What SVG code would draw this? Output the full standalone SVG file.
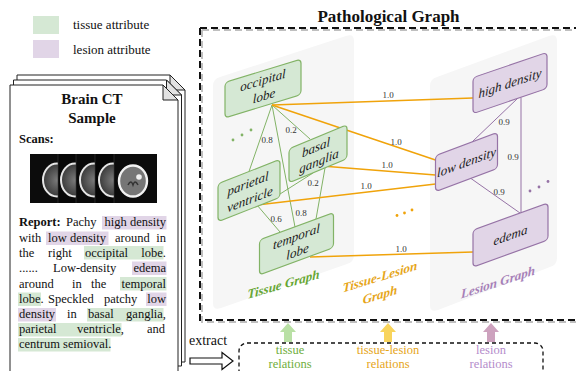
<svg xmlns="http://www.w3.org/2000/svg" width="576" height="371" viewBox="0 0 576 371">
<defs>
<style>
text{font-family:"Liberation Serif","Times New Roman",serif;}
.tissue{fill:#d5e8d4;stroke:#82b366;stroke-width:1.2;}
.lesion{fill:#e1d5e7;stroke:#9673a6;stroke-width:1.2;}
.nt{font-size:13px;font-style:italic;fill:#1a1a1a;text-anchor:middle;}
.el{font-size:9px;fill:#333;text-anchor:middle;}
.ge{stroke:#82b366;stroke-width:1;fill:none;}
.oe{stroke:#f0a30a;stroke-width:1.5;fill:none;}
.pe{stroke:#9673a6;stroke-width:1;fill:none;}
.rep{font-size:12.5px;fill:#111;}
.page{fill:#fff;stroke:#222;stroke-width:1;}
.fold{fill:#e2e2e2;stroke:#222;stroke-width:1;}
.panel{fill:#f6f6f6;}
.gl{font-size:13px;font-weight:bold;font-style:italic;text-anchor:middle;}
.bt{font-size:12.5px;text-anchor:middle;}
.head{fill:url(#brain);stroke:#e6e6e6;stroke-width:2;}
.sep{stroke:#3a3a3a;stroke-width:0.6;}
</style>
<radialGradient id="brain" cx="0.5" cy="0.5" r="0.5">
<stop offset="0" stop-color="#7a7a7a"/>
<stop offset="1" stop-color="#3a3a3a"/>
</radialGradient>
</defs>

<!-- legend -->
<g id="legend">
<rect x="33" y="16" width="26" height="18" fill="#d5e8d4"/>
<text x="73" y="29" font-size="13" fill="#111">tissue attribute</text>
<rect x="33" y="40" width="26" height="18" fill="#e1d5e7"/>
<text x="73" y="53.5" font-size="13" fill="#111">lesion attribute</text>
</g>

<!-- document stack -->
<g id="document">
<path class="page" d="M17 75 H170 L185 90 V362 H17 Z"/>
<path class="fold" d="M170 75 V90 H185 Z"/>
<path class="page" d="M13.5 80 H166.5 L181.5 95 V366 H13.5 Z"/>
<path class="fold" d="M166.5 80 V95 H181.5 Z"/>
<path class="page" d="M10 85 H163 L178 100 V380 H10 Z"/>
<path class="fold" d="M163 85 V100 H178 Z"/>
<text x="92" y="104" font-size="15" font-weight="bold" text-anchor="middle" fill="#111">Brain CT</text>
<text x="92" y="123" font-size="15" font-weight="bold" text-anchor="middle" fill="#111">Sample</text>
<text x="19" y="143" font-size="12.5" font-weight="bold" fill="#111">Scans:</text>
<!-- CT strip -->
<g id="ct">
<rect x="30" y="154" width="127" height="49" fill="#0c0c0c"/>
<ellipse class="head" cx="57" cy="180" rx="14" ry="16.5"/>
<rect x="58" y="154" width="99" height="49" fill="#070707"/>
<line class="sep" x1="58" y1="154" x2="58" y2="203"/>
<ellipse class="head" cx="75" cy="180" rx="14" ry="16.5"/>
<rect x="76" y="154" width="81" height="49" fill="#0a0a0a"/>
<line class="sep" x1="76" y1="154" x2="76" y2="203"/>
<ellipse class="head" cx="94" cy="180" rx="14" ry="16.5"/>
<rect x="95" y="154" width="62" height="49" fill="#060606"/>
<line class="sep" x1="95" y1="154" x2="95" y2="203"/>
<ellipse class="head" cx="113" cy="180" rx="14" ry="16.5"/>
<rect x="114" y="154" width="43" height="49" fill="#0b0b0b"/>
<line class="sep" x1="114" y1="154" x2="114" y2="203"/>
<ellipse cx="133" cy="181" rx="14" ry="15.5" fill="#767676" stroke="#f2f2f2" stroke-width="2.4"/>
<path d="M128 185 Q131 179 133 185 Q135 179 138 185" stroke="#333" stroke-width="1.5" fill="none"/>
<circle cx="139" cy="177" r="2.8" fill="#f0f0f0"/>
</g>
<!-- report -->
<g id="highlights">
<rect x="102" y="216" width="64.5" height="13.5" fill="#e1d5e7"/>
<rect x="46" y="231.5" width="62.5" height="13.5" fill="#e1d5e7"/>
<rect x="84" y="246" width="79.5" height="13.5" fill="#d5e8d4"/>
<rect x="132" y="261.5" width="34.5" height="13.5" fill="#e1d5e7"/>
<rect x="120" y="277" width="46.5" height="13.5" fill="#d5e8d4"/>
<rect x="18" y="292.5" width="23" height="13.5" fill="#d5e8d4"/>
<rect x="146" y="292.5" width="20.5" height="13.5" fill="#e1d5e7"/>
<rect x="18" y="308" width="38" height="13.5" fill="#e1d5e7"/>
<rect x="87" y="308" width="76.5" height="13.5" fill="#d5e8d4"/>
<rect x="18" y="323" width="103.5" height="13.5" fill="#d5e8d4"/>
<rect x="18" y="338" width="92.5" height="13.5" fill="#d5e8d4"/>
</g>
<text class="rep" y="226"><tspan x="19" font-weight="bold">Report:</tspan><tspan x="66">Pachy</tspan><tspan x="166" text-anchor="end">high density</tspan></text>
<text class="rep" y="241.5"><tspan x="19">with</tspan><tspan x="48">low density</tspan><tspan x="115">around</tspan><tspan x="166" text-anchor="end">in</tspan></text>
<text class="rep" y="256.5"><tspan x="19">the</tspan><tspan x="48">right</tspan><tspan x="85">occipital</tspan><tspan x="166" text-anchor="end">lobe.</tspan></text>
<text class="rep" y="272"><tspan x="19">......</tspan><tspan x="53">Low-density</tspan><tspan x="166" text-anchor="end">edema</tspan></text>
<text class="rep" y="287.5"><tspan x="19">around</tspan><tspan x="72">in</tspan><tspan x="91">the</tspan><tspan x="166" text-anchor="end">temporal</tspan></text>
<text class="rep" y="302.5"><tspan x="19">lobe.</tspan><tspan x="48">Speckled</tspan><tspan x="104">patchy</tspan><tspan x="166" text-anchor="end">low</tspan></text>
<text class="rep" y="318"><tspan x="19">density</tspan><tspan x="67">in</tspan><tspan x="88">basal</tspan><tspan x="166" text-anchor="end">ganglia,</tspan></text>
<text class="rep" y="333"><tspan x="19">parietal</tspan><tspan x="77">ventricle,</tspan><tspan x="165" text-anchor="end">and</tspan></text>
<text class="rep" y="348"><tspan x="19">centrum semioval.</tspan></text>
</g>

<!-- main frame -->
<g id="frame">
<path d="M202 30 V322 H590 M202 30 H590" fill="none" stroke="#000" stroke-opacity="0.25" stroke-width="2" stroke-dasharray="7 4"/>
<path d="M200 28 V320 H590 M200 28 H590" fill="none" stroke="#111" stroke-width="2" stroke-dasharray="7 4"/>
<text x="388.5" y="22" font-size="17" font-weight="bold" text-anchor="middle" fill="#111">Pathological Graph</text>
</g>

<!-- panels -->
<path class="panel" d="M213 86 Q213 79 220 77 L346 36 Q354 33 354 41 V255 Q354 262 347 264 L221 308 Q213 311 213 303 Z"/>
<path class="panel" d="M430 86 Q430 79 437 77 L549 36 Q557 33 557 41 V258 Q557 265 550 267 L438 310 Q430 313 430 305 Z"/>

<!-- connectors -->
<g id="connectors">
<line class="ge" x1="272" y1="105" x2="249" y2="171.5"/>
<line class="ge" x1="272" y1="105" x2="310" y2="139"/>
<line class="ge" x1="272" y1="105" x2="295" y2="227"/>
<line class="ge" x1="325" y1="168" x2="316" y2="219"/>
<line class="ge" x1="313" y1="173" x2="280" y2="194"/>
<line class="ge" x1="257" y1="205" x2="280" y2="232"/>
<line class="oe" x1="272" y1="105" x2="473" y2="98"/>
<line class="oe" x1="272" y1="105" x2="435.5" y2="160"/>
<line class="oe" x1="328" y1="166.5" x2="435.5" y2="175"/>
<line class="oe" x1="257" y1="205" x2="435.5" y2="184"/>
<line class="oe" x1="310" y1="257" x2="473" y2="252"/>
<line class="pe" x1="518" y1="98" x2="472" y2="142"/>
<line class="pe" x1="521" y1="97.5" x2="521" y2="213"/>
<line class="pe" x1="471" y1="178.5" x2="520" y2="213"/>
<g id="edge-labels">
<text class="el" x="267" y="142.5">0.8</text>
<text class="el" x="291" y="133">0.2</text>
<text class="el" x="301" y="216">0.8</text>
<text class="el" x="313" y="186">0.2</text>
<text class="el" x="276" y="222">0.6</text>
<text class="el" x="388" y="98">1.0</text>
<text class="el" x="396" y="145">1.0</text>
<text class="el" x="387" y="168">1.0</text>
<text class="el" x="366" y="189">1.0</text>
<text class="el" x="401" y="251.5">1.0</text>
<text class="el" x="504" y="125">0.9</text>
<text class="el" x="513" y="160">0.9</text>
<text class="el" x="499" y="195">0.9</text>
</g>
<g id="dots">
<circle cx="233" cy="140" r="1.4" fill="#82b366"/>
<circle cx="242" cy="135" r="1.4" fill="#82b366"/>
<circle cx="251" cy="130" r="1.4" fill="#82b366"/>
<circle cx="397" cy="215.5" r="1.4" fill="#f0a30a"/>
<circle cx="404.5" cy="213" r="1.4" fill="#f0a30a"/>
<circle cx="412" cy="210" r="1.4" fill="#f0a30a"/>
<circle cx="530" cy="191" r="1.4" fill="#9673a6"/>
<circle cx="539" cy="187" r="1.4" fill="#9673a6"/>
<circle cx="548" cy="181.5" r="1.4" fill="#9673a6"/>
</g>
</g>

<!-- tissue nodes -->
<g id="node-occipital-lobe" transform="translate(263,88.5) skewY(-17)">
<rect class="tissue" x="-38" y="-17.75" width="76" height="35.5" rx="4"/>
<text class="nt" x="0" y="-4">occipital</text>
<text class="nt" x="1" y="12">lobe</text>
</g>
<g id="node-basal-ganglia" transform="translate(318,153.75) skewY(-22.5)">
<rect class="tissue" x="-29" y="-17" width="58" height="34" rx="4"/>
<text class="nt" x="-2" y="-3">basal</text>
<text class="nt" x="1" y="12">ganglia</text>
</g>
<g id="node-parietal-ventricle" transform="translate(249,190.5) skewY(-21.3)">
<rect class="tissue" x="-31" y="-19" width="62" height="38" rx="4"/>
<text class="nt" x="-1" y="-3">parietal</text>
<text class="nt" x="1" y="13.5">ventricle</text>
</g>
<g id="node-temporal-lobe" transform="translate(296.5,243.75) skewY(-20.3)">
<rect class="tissue" x="-37" y="-17.5" width="74" height="35" rx="4"/>
<text class="nt" x="0" y="-3">temporal</text>
<text class="nt" x="1" y="12.5">lobe</text>
</g>

<!-- lesion nodes -->
<g id="node-high-density" transform="translate(510,83) skewY(-18.8)">
<rect class="lesion" x="-37" y="-18" width="74" height="36" rx="4"/>
<text class="nt" x="0" y="4.5" font-size="12.5">high density</text>
</g>
<g id="node-low-density" transform="translate(466.5,162) skewY(-20.5)">
<rect class="lesion" x="-31" y="-18" width="62" height="36" rx="4"/>
<text class="nt" x="0" y="4.5" font-size="12.5">low density</text>
</g>
<g id="node-edema" transform="translate(510.5,235) skewY(-19.8)">
<rect class="lesion" x="-37.5" y="-18.5" width="75" height="37" rx="4"/>
<text class="nt" x="0" y="4.5" font-size="12.5">edema</text>
</g>

<!-- graph labels -->
<g transform="translate(283.5,284) skewY(-16)"><text class="gl" x="0" y="4.5" fill="#66a633">Tissue Graph</text></g>
<g transform="translate(380,285) skewY(-17)"><text class="gl" x="0" y="-4" fill="#e6a519">Tissue-Lesion</text><text class="gl" x="0" y="14" fill="#e6a519">Graph</text></g>
<g transform="translate(498,282) skewY(-18)"><text class="gl" x="0" y="4.5" fill="#a680b8">Lesion Graph</text></g>

<!-- bottom: extract -->
<g id="extract">
<text x="189" y="345" font-size="14" fill="#111">extract</text>
<path d="M190 358 H222 V352.5 L233 361 L222 369.5 V364 H190 Z" fill="#fff" stroke="#111" stroke-width="1.2"/>
</g>
<g id="up-arrows">
<path d="M284 342 V332 H280 L288 323 L296 332 H292 V342 Z" fill="#b9e0a5"/>
<path d="M384 342 V332 H380 L388 323 L396 332 H392 V342 Z" fill="#f8d45c"/>
<path d="M487 342 V332 H483 L491 323 L499 332 H495 V342 Z" fill="#cda2be"/>
</g>
<g id="relations-box">
<rect x="239" y="343" width="304" height="60" rx="8" fill="none" stroke="#111" stroke-width="1.3" stroke-dasharray="4 3"/>
<text class="bt" x="290" y="353.5" fill="#6fae3c">tissue</text>
<text class="bt" x="290" y="368" fill="#6fae3c">relations</text>
<text class="bt" x="388" y="353.5" fill="#e6a519">tissue-lesion</text>
<text class="bt" x="388" y="368" fill="#e6a519">relations</text>
<text class="bt" x="491" y="353.5" fill="#b48ccb">lesion</text>
<text class="bt" x="491" y="368" fill="#b48ccb">relations</text>
</g>
</svg>
